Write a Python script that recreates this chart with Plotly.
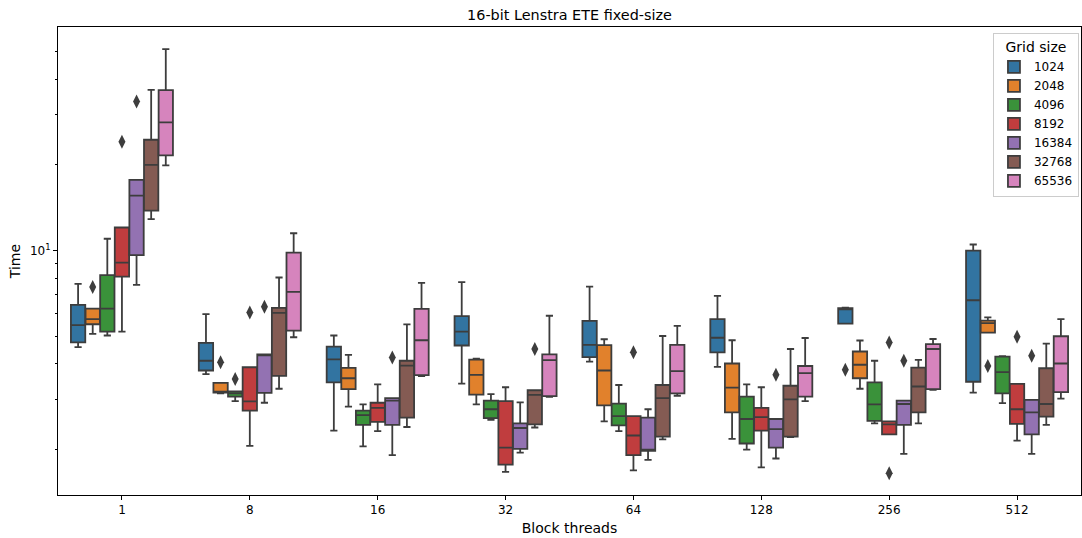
import plotly.graph_objects as go

# ---------------- data ----------------
blocks = ["1", "8", "16", "32", "64", "128", "256", "512"]
grid_sizes = ["1024", "2048", "4096", "8192", "16384", "32768", "65536"]
colors = ["#3274A1", "#E1812C", "#3A923A", "#C03D3E", "#9372B2", "#845B53", "#D684BD"]

# one row per grid size, one value per block-thread count
whisker_low = [
    [4.58, 3.68, 2.33, 3.41, 4.07, 3.90, 5.54, 3.17],
    [5.10, 3.15, 2.83, 2.88, 2.51, 2.18, 3.27, 5.15],
    [5.03, 2.96, 2.05, 2.54, 2.32, 2.00, 2.47, 2.91],
    [5.19, 2.06, 2.32, 1.67, 1.69, 1.73, 2.26, 2.15],
    [7.58, 2.92, 1.91, 1.95, 1.84, 1.86, 1.93, 1.93],
    [12.9, 3.27, 2.40, 2.39, 2.17, 2.21, 2.47, 2.44],
    [19.9, 4.96, 3.62, 3.06, 3.09, 2.96, 3.24, 3.02],
]
q1 = [
    [4.76, 3.79, 3.44, 4.64, 4.22, 4.39, 5.54, 3.46],
    [5.51, 3.17, 3.26, 3.12, 2.86, 2.70, 3.56, 5.15],
    [5.19, 3.07, 2.44, 2.58, 2.43, 2.10, 2.52, 3.15],
    [8.10, 2.74, 2.50, 1.77, 1.91, 2.33, 2.26, 2.46],
    [9.63, 3.16, 2.44, 2.01, 1.98, 2.03, 2.44, 2.26],
    [13.8, 3.63, 2.59, 2.45, 2.22, 2.22, 2.70, 2.61],
    [21.6, 5.23, 3.65, 3.08, 3.15, 3.07, 3.26, 3.18],
]
median = [
    [5.47, 4.10, 4.15, 5.19, 4.66, 4.94, 6.23, 6.69],
    [5.74, 3.19, 3.56, 3.66, 3.79, 3.30, 3.97, 5.56],
    [6.25, 3.15, 2.64, 2.77, 2.62, 2.56, 2.88, 3.74],
    [9.07, 2.95, 2.80, 2.03, 2.24, 2.60, 2.45, 2.77],
    [15.6, 4.28, 2.97, 2.38, 2.00, 2.36, 2.89, 2.70],
    [20.0, 6.04, 3.94, 3.11, 3.03, 3.00, 3.33, 2.89],
    [28.2, 7.16, 4.84, 4.12, 3.77, 3.71, 4.51, 4.01],
]
q3 = [
    [6.44, 4.74, 4.60, 5.88, 5.66, 5.74, 6.27, 10.0],
    [6.25, 3.43, 3.87, 4.14, 4.65, 4.01, 4.42, 5.67],
    [8.19, 3.20, 2.74, 2.97, 2.90, 3.07, 3.44, 4.24],
    [12.05, 3.89, 2.92, 2.96, 2.62, 2.80, 2.51, 3.40],
    [17.7, 4.32, 3.03, 2.47, 2.59, 2.56, 2.97, 2.99],
    [24.5, 6.29, 4.10, 3.23, 3.37, 3.35, 3.88, 3.86],
    [36.6, 9.84, 6.24, 4.32, 4.66, 3.93, 4.69, 5.00],
]
whisker_high = [
    [7.64, 5.98, 5.03, 7.75, 7.47, 6.93, 6.30, 10.5],
    [6.25, 3.43, 4.30, 4.17, 4.88, 4.84, 4.83, 5.82],
    [11.0, 3.20, 2.88, 3.13, 3.37, 3.39, 4.10, 4.26],
    [12.05, 3.89, 3.39, 3.31, 2.62, 3.31, 2.51, 3.40],
    [17.7, 4.32, 3.03, 2.93, 2.77, 2.56, 2.97, 2.99],
    [36.7, 8.04, 5.50, 3.23, 5.01, 4.51, 4.13, 4.71],
    [51.0, 11.5, 7.70, 5.90, 5.44, 4.93, 4.89, 5.74],
]

outlier_block = ["1", "1", "1", "8", "8", "8", "8", "16", "32", "64", "128",
                 "256", "256", "256", "256", "512", "512", "512"]
outlier_grid = ["2048", "8192", "16384", "2048", "4096", "8192", "16384", "16384",
                "32768", "8192", "16384", "1024", "8192", "8192", "16384",
                "2048", "8192", "16384"]
outlier_value = [7.44, 24.1, 33.4, 4.05, 3.54, 6.06, 6.35, 4.21, 4.51, 4.39, 3.66,
                 3.81, 4.75, 1.65, 4.10, 3.93, 4.98, 4.27]

# ---------------- layout helpers ----------------
n_hue = len(grid_sizes)
group_width = 0.8
slot = group_width / n_hue


def dodge(i, j):
    return i - group_width / 2 + slot * (j + 0.5)


edge = "#3d3d3d"
fig = go.Figure()
for j, g in enumerate(grid_sizes):
    fig.add_trace(go.Box(
        x=[dodge(i, j) for i in range(len(blocks))],
        q1=q1[j], median=median[j], q3=q3[j],
        lowerfence=whisker_low[j], upperfence=whisker_high[j],
        name=g, orientation="v",
        fillcolor=colors[j],
        line=dict(color=edge, width=1.8),
        width=slot * 0.98, whiskerwidth=0.5,
        boxpoints=False,
    ))

fig.add_trace(go.Scatter(
    x=[dodge(blocks.index(b), grid_sizes.index(g)) for b, g in zip(outlier_block, outlier_grid)],
    y=outlier_value,
    mode="markers",
    marker=dict(symbol="diamond-tall", size=10, color=edge),
    showlegend=False,
))

font = "DejaVu Sans"
fig.update_layout(
    width=1082, height=538,
    margin=dict(l=58, r=1, t=27, b=43),
    paper_bgcolor="white", plot_bgcolor="white",
    font=dict(family=font, size=12, color="black"),
    title=dict(text="16-bit Lenstra ETE fixed-size", x=0.5, xref="paper",
               y=1 - 15 / 538, yref="container", yanchor="middle",
               font=dict(size=14.4, family=font)),
    showlegend=True,
    legend=dict(title=dict(text="Grid size", side="top center"), x=0.998, xanchor="right",
                y=0.987, yanchor="top", bgcolor="rgba(255,255,255,0.8)",
                bordercolor="#cccccc", borderwidth=1, font=dict(size=12)),
    xaxis=dict(range=[-0.5, len(blocks) - 0.5], tickmode="array",
               tickvals=list(range(len(blocks))), ticktext=blocks,
               showline=True, mirror=True, linecolor="black", linewidth=1,
               ticks="outside", ticklen=4, tickcolor="black",
               showgrid=False, zeroline=False,
               title=dict(text="Block threads", standoff=6)),
    yaxis=dict(type="log", range=[0.1413, 1.7852], tickmode="array",
               tickvals=[10], ticktext=["10<sup>1</sup>"],
               minor=dict(tickmode="array",
                          tickvals=[2, 3, 4, 5, 6, 7, 8, 9, 20, 30, 40, 50],
                          ticks="outside", ticklen=2.5, tickcolor="black", showgrid=False),
               showline=True, mirror=True, linecolor="black", linewidth=1,
               ticks="outside", ticklen=4, tickcolor="black",
               showgrid=False, zeroline=False,
               title=dict(text="Time", standoff=6)),
)

fig.write_html("out.html")
